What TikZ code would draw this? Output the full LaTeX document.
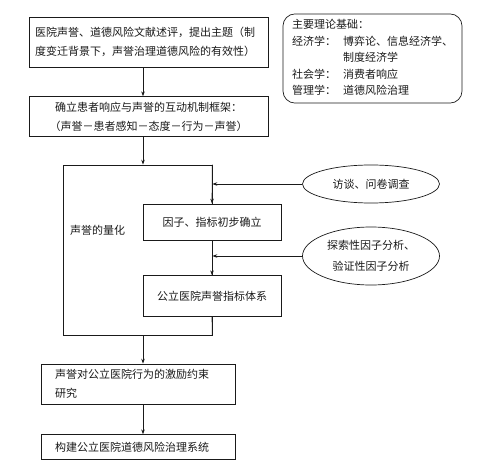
\documentclass[tikz,border=0pt]{standalone}
\usepackage{fontspec}
\setmainfont{Noto Sans CJK SC}
\usetikzlibrary{arrows.meta,positioning,shapes.geometric,calc}
\definecolor{FlowInk}{HTML}{1A1A1A}

\begin{document}
\begin{tikzpicture}[
x=1pt, y=-1pt,
every node/.style={font=\fontsize{11}{19}\selectfont, text=FlowInk},
mainbox/.style={draw=FlowInk, line width=0.7pt, fill=white, inner xsep=6pt, inner ysep=4pt},
subbox/.style={draw=FlowInk, line width=0.7pt, fill=white, minimum width=138pt, align=center},
oval/.style={draw=FlowInk, line width=0.7pt, ellipse, fill=white, minimum width=137pt, align=center, font=\fontsize{11}{21}\selectfont},
arrow/.style={-{Stealth[length=5pt,width=3.5pt]}, line width=0.7pt, color=FlowInk},
link/.style={line width=0.7pt, color=FlowInk}
]
\useasboundingbox (0,0) rectangle (489,470);
\coordinate (trunk) at (143,0);
\node[mainbox, text width=227pt, minimum height=50pt, align=left] (intro) at (148.5,42) {医院声誉、道德风险文献述评，提出主题（制\\度变迁背景下，声誉治理道德风险的有效性）};
\node[mainbox, text width=227pt, minimum height=40pt, align=center, below=29pt of intro] (framework) {确立患者响应与声誉的互动机制框架：\\（声誉－患者感知－态度－行为－声誉）};
\node[draw=FlowInk, line width=0.7pt, rounded corners=12pt, minimum width=179pt, minimum height=89pt, font=\fontsize{11}{16.5}\selectfont] (theory) at (372.5,58.5) {\begin{tabular}{@{}l@{\hspace{7pt}}l@{}}
\multicolumn{2}{@{}l}{主要理论基础：}\\
经济学： & 博弈论、信息经济学、\\
 & 制度经济学\\
社会学： & 消费者响应\\
管理学： & 道德风险治理
\end{tabular}};
% quantification frame
\node[draw=FlowInk, line width=0.7pt, minimum width=149pt, minimum height=170pt] (frame) at (137.5,250) {};
\node[anchor=west] (qlabel) at ([xshift=4pt,yshift=20pt]frame.west) {声誉的量化};
\node[subbox, minimum height=36pt] (factor) at (212,222) {因子、指标初步确立};
\node[subbox, minimum height=41pt, below=35pt of factor] (system) {公立医院声誉指标体系};
\node[oval, minimum height=38pt] (interview) at (371,184) {访谈、问卷调查};
\node[oval, minimum height=58pt] (cfa) at (371,256) {探索性因子分析、\\验证性因子分析};
\node[mainbox, text width=166pt, inner xsep=14pt, minimum height=40pt, align=left] (incentive) at (138,384) {声誉对公立医院行为的激励约束\\研究};
\node[mainbox, text width=166pt, inner xsep=14pt, minimum height=25pt, inner ysep=2pt, align=left, below=30pt of incentive] (governance) {构建公立医院道德风险治理系统};
\draw[arrow] (intro.south -| trunk) -- (framework.north -| trunk);
\draw[arrow] (framework.south -| trunk) -- (frame.north -| trunk);
\draw[arrow] (frame.north east) -- (factor.north);
\draw[arrow] (factor.south) -- (system.north);
\draw[link] (system.south) -- (frame.south east);
\draw[arrow] (interview.west) -- (interview.west -| frame.east);
\draw[arrow] (cfa.west) -- (cfa.west -| frame.east);
\draw[arrow] (frame.south -| trunk) -- (incentive.north -| trunk);
\draw[arrow] (incentive.south -| trunk) -- (governance.north -| trunk);
\end{tikzpicture}
\end{document}
